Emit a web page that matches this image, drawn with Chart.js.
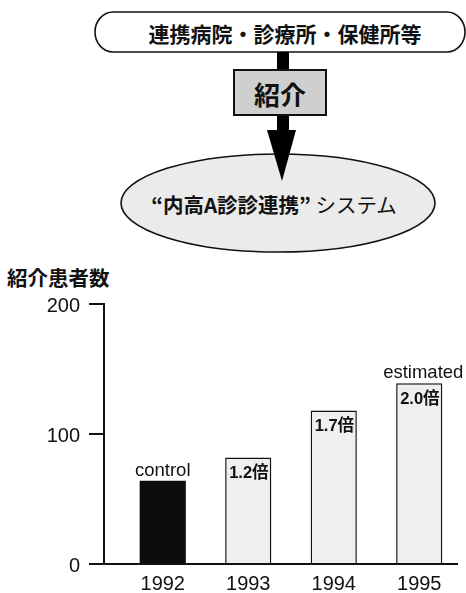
<!DOCTYPE html>
<html>
<head>
<meta charset="utf-8">
<script src="https://cdn.jsdelivr.net/npm/chart.js@4"></script>
<style>
  html, body { margin: 0; padding: 0; width: 466px; height: 593px; overflow: hidden; background: #fff; }
  #diagram { position: absolute; left: 0; top: 0; }
  #ytitle { position: absolute; left: 7px; top: 264px; font: bold 20.5px "Noto Sans CJK JP", sans-serif; color: #111; line-height: 26px; white-space: nowrap; }
  #wrap { position: absolute; left: 0; top: 260px; width: 466px; height: 348px; }
</style>
</head>
<body>
<svg id="diagram" width="466" height="260" xmlns="http://www.w3.org/2000/svg">
  <rect x="95" y="12" width="370" height="40" rx="18" ry="20" fill="#fff" stroke="#111" stroke-width="1.6"/>
  <text x="285" y="33" text-anchor="middle" dominant-baseline="central" font-family="Noto Sans CJK JP" font-weight="bold" font-size="21" fill="#111">連携病院・診療所・保健所等</text>
  <ellipse cx="278" cy="203" rx="157" ry="49" fill="#ebebeb" stroke="#111" stroke-width="1.6"/>
  <rect x="277" y="52" width="12" height="80" fill="#000"/>
  <polygon points="267,130 296,130 282,181" fill="#000"/>
  <rect x="234" y="70" width="92" height="45" fill="#cfcfcf" stroke="#111" stroke-width="2"/>
  <text x="280" y="93" text-anchor="middle" dominant-baseline="central" font-family="Noto Sans CJK JP" font-weight="bold" font-size="26" fill="#111">紹介</text>
  <text x="274" y="204" text-anchor="middle" dominant-baseline="central" font-family="Noto Sans CJK JP" font-size="20.5" fill="#111"><tspan font-weight="bold">“内高A診診連携”</tspan> システム</text>
</svg>
<div id="ytitle">紹介患者数</div>
<div id="wrap"><canvas id="c" width="466" height="348"></canvas></div>
<script>
const years = ['1992', '1993', '1994', '1995'];
const patients = [64, 82, 118, 139];
const ratioLabels = ['', '1.2倍', '1.7倍', '2.0倍'];
const aboveLabels = ['control', '', '', 'estimated'];
const yTicks = [0, 100, 200];
const barFills = ['#0d0d0d', '#efefef', '#efefef', '#efefef'];
const barBorders = [0, 1.5, 1.5, 1.5];

const axesPlugin = {
  id: 'customAxes',
  afterDatasetsDraw(chart) {
    const ctx = chart.ctx;
    const y = chart.scales.y;
    const area = chart.chartArea;
    const axisX = area.left - 16;
    const y0 = y.getPixelForValue(0);
    const yTop = y.getPixelForValue(200);
    ctx.save();
    ctx.strokeStyle = '#111';
    ctx.lineWidth = 2;
    ctx.beginPath();
    ctx.moveTo(axisX, yTop - 1);
    ctx.lineTo(axisX, y0);
    ctx.stroke();
    ctx.beginPath();
    ctx.moveTo(axisX - 15, y0);
    ctx.lineTo(area.right - 4, y0);
    ctx.stroke();
    ctx.fillStyle = '#111';
    ctx.font = '20px "Liberation Sans", Arial, sans-serif';
    ctx.textAlign = 'right';
    ctx.textBaseline = 'middle';
    yTicks.forEach(v => {
      const py = y.getPixelForValue(v);
      ctx.beginPath();
      ctx.moveTo(axisX - 15, py);
      ctx.lineTo(axisX, py);
      ctx.stroke();
      ctx.fillText(String(v), axisX - 24, py + 2);
    });
    const meta = chart.getDatasetMeta(0);
    meta.data.forEach((bar, i) => {
      const left = bar.x - bar.width / 2;
      if (aboveLabels[i]) {
        ctx.font = '18.5px "Liberation Sans", Arial, sans-serif';
        ctx.textAlign = 'center';
        ctx.textBaseline = 'bottom';
        const dx = i === 3 ? 4 : 0;
        ctx.fillText(aboveLabels[i], bar.x + dx, bar.y - 1);
      }
      if (ratioLabels[i]) {
        ctx.font = 'bold 16.5px "Liberation Sans", "Noto Sans CJK JP", sans-serif';
        ctx.textAlign = 'left';
        ctx.textBaseline = 'middle';
        ctx.fillText(ratioLabels[i], left + 4, bar.y + 16);
      }
    });
    ctx.restore();
  }
};

new Chart(document.getElementById('c'), {
  type: 'bar',
  data: {
    labels: years,
    datasets: [{
      data: patients,
      backgroundColor: barFills,
      borderColor: '#111',
      borderWidth: barBorders,
      categoryPercentage: 1,
      barPercentage: 0.54
    }]
  },
  options: {
    responsive: false,
    animation: false,
    events: [],
    layout: { padding: { left: 120, right: 4, top: 44, bottom: 4 } },
    plugins: { legend: { display: false }, tooltip: { enabled: false } },
    scales: {
      x: {
        grid: { display: false, drawTicks: false },
        border: { display: false },
        ticks: { color: '#111', padding: 8, font: { family: '"Liberation Sans", Arial, sans-serif', size: 20 } }
      },
      y: {
        display: false,
        min: 0,
        max: 200,
        ticks: { stepSize: 100 }
      }
    }
  },
  plugins: [axesPlugin]
});
</script>
</body>
</html>
